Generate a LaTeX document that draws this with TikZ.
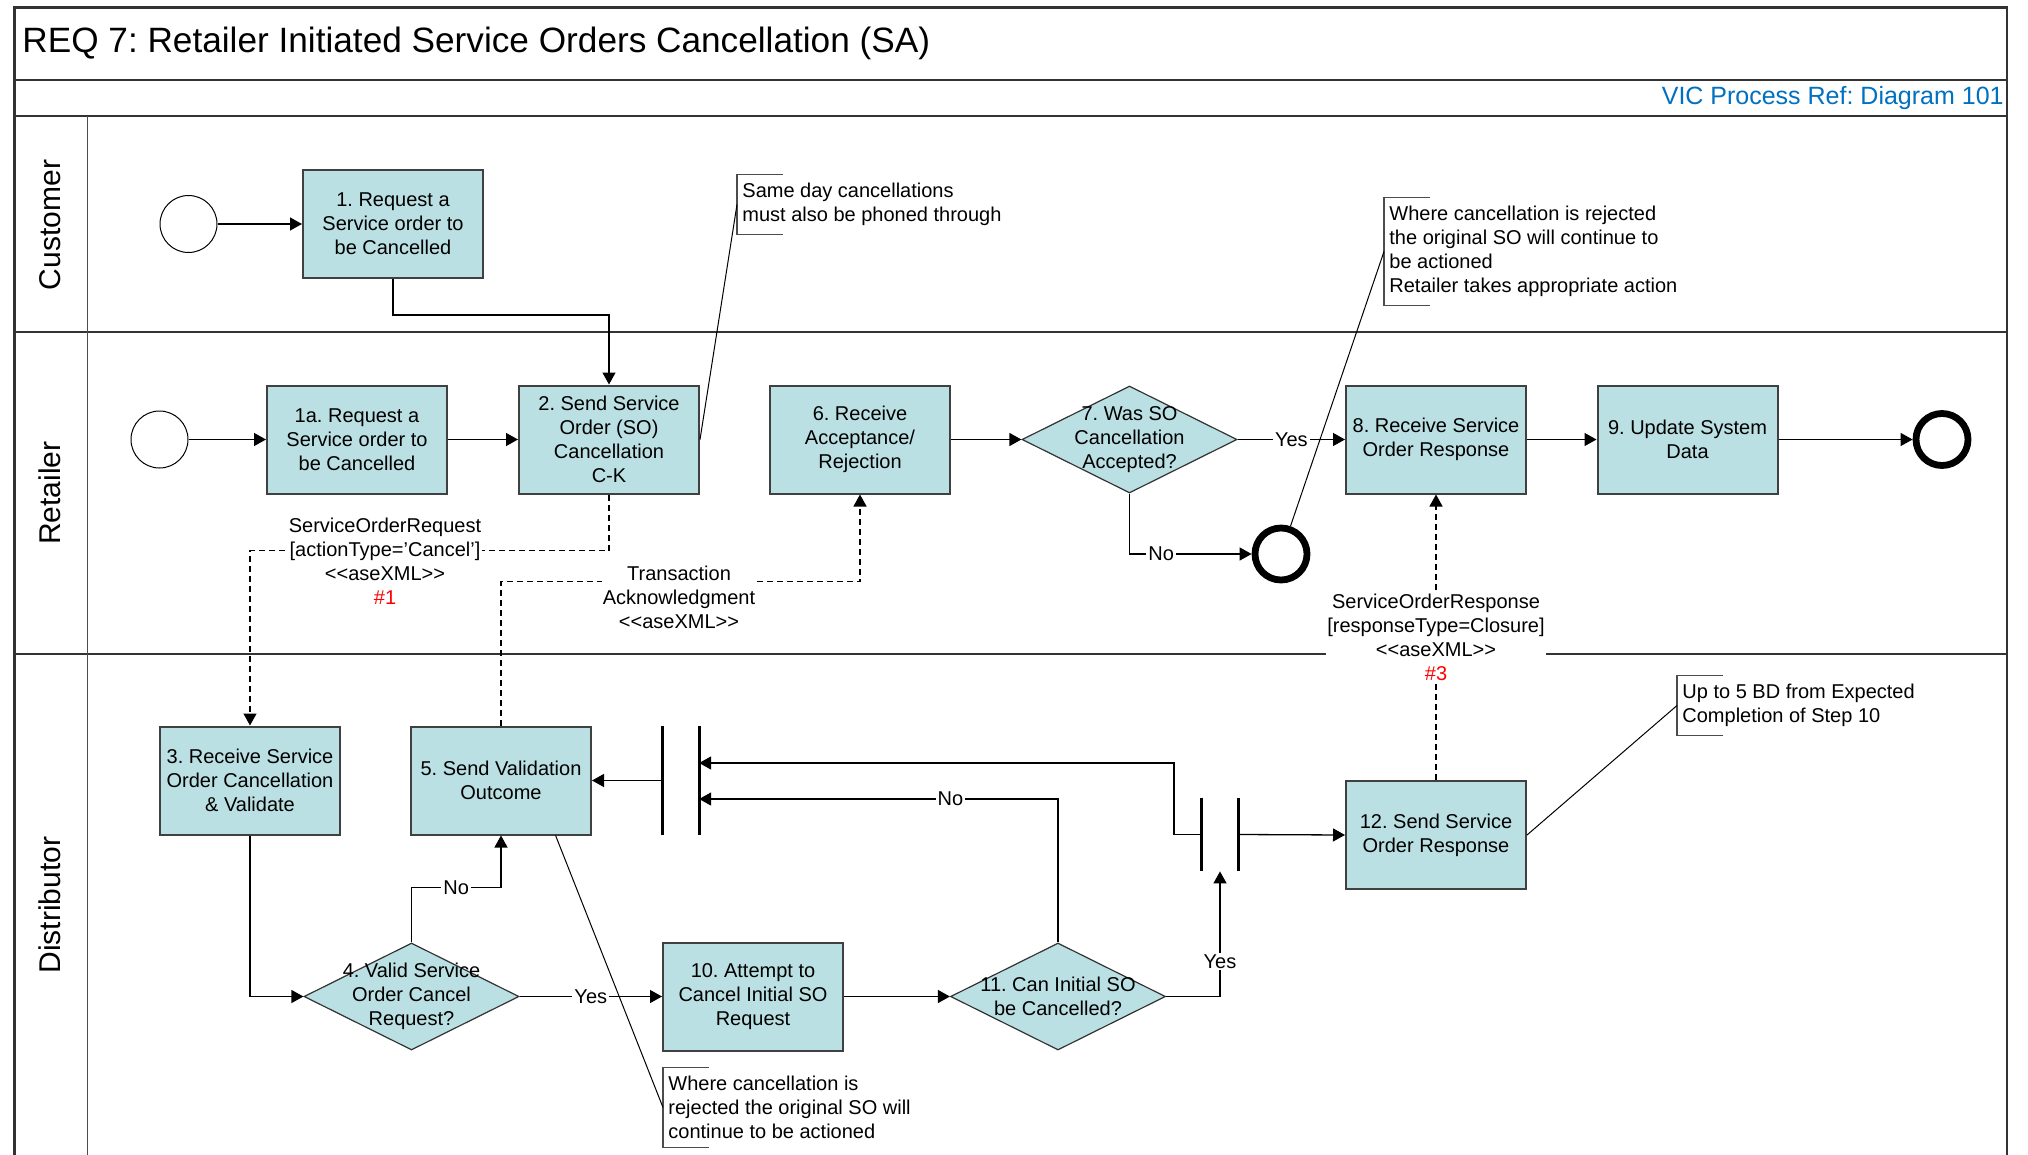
\documentclass[tikz,border=0pt]{standalone}
\usepackage{fontspec}
\setmainfont{Liberation Sans}
\frenchspacing
\usetikzlibrary{shapes.geometric,arrows.meta,calc}
\definecolor{taskfill}{HTML}{BBE0E3}
\definecolor{refblue}{HTML}{0070C0}
\definecolor{framegray}{HTML}{333333}

\begin{document}
\begin{tikzpicture}[x=0.5pt, y=-0.5pt,
    every node/.style={font=\fontsize{10}{12}\selectfont},
    task/.style={draw=black!75, line width=1pt, fill=taskfill, minimum width=90pt, minimum height=54pt, inner xsep=0.5pt, align=center},
    decision/.style={diamond, draw=black!80, line width=0.6pt, fill=taskfill, minimum width=107.5pt, minimum height=53.5pt, inner sep=0pt},
    startev/.style={circle, draw, line width=0.5pt, minimum size=28.5pt, inner sep=0pt},
    endev/.style={circle, draw, line width=3.4pt, minimum size=26pt, inner sep=0pt},
    gateway/.style={inner sep=0pt, minimum width=18.1pt},
    bar/.style={line width=1.6pt},
    flow/.style={line width=0.65pt, -{Triangle[length=6pt,width=6.5pt]}},
    msg/.style={flow, dash pattern=on 3pt off 2pt},
    lbl/.style={fill=white, inner sep=1pt},
    msglabel/.style={fill=white, align=center, inner sep=0.5pt},
    note/.style={anchor=west, align=left, inner xsep=2.5pt, inner ysep=4pt},
    bracket/.style={line width=0.6pt, draw=black!70},
    callout/.style={line width=0.5pt},
    lane/.style={line width=1pt, draw=framegray},
    lanename/.style={rotate=90, font=\fontsize{15}{18}\selectfont}
]

% Frame and lanes
\useasboundingbox (0,0) rectangle (2028,1155);
\draw[line width=1.3pt, draw=framegray] (14.5,1155) -- (14.5,7.5) -- (2007,7.5) -- (2007,1155);
\draw[lane] (14.5,80) -- (2007,80);
\draw[lane] (14.5,116) -- (2007,116);
\draw[lane] (14.5,332) -- (2007,332);
\draw[lane] (14.5,654) -- (2007,654);
\draw[black!70, line width=0.5pt] (87,116) -- (87,1155);

% Heading
\node[anchor=west, inner sep=0pt, font=\fontsize{17.6}{21}\selectfont] (title) at (22,43.5) {REQ 7: Retailer Initiated Service Orders Cancellation (SA)};
\node[anchor=east, inner sep=0pt, text=refblue, font=\fontsize{12.5}{15}\selectfont] (ref) at (2004,98) {VIC Process Ref: Diagram 101};

% Lane names
\node[lanename] (laneC) at (50,225) {Customer};
\node[lanename] (laneR) at (50,493) {Retailer};
\node[lanename] (laneD) at (50,905) {Distributor};

% Customer
\node[startev] (startC) at (188.5,224) {};
\node[task] (b1) at (393,224) {1. Request a\\Service order to\\be Cancelled};
\draw[flow] (startC) -- (b1);

% Retailer
\node[startev] (startR) at (159.5,439.5) {};
\node[task] (b1a) at (357,439.5) {1a. Request a\\Service order to\\be Cancelled};
\node[task] (b2) at (609,439.5) {2. Send Service\\Order (SO)\\Cancellation\\C-K};
\node[task] (b6) at (860,439.5) {6. Receive\\Acceptance/\\Rejection};
\node[decision] (d7) at (1129.5,439.5) {};
\node[align=center] (d7t) at (d7) {7. Was SO\\Cancellation\\Accepted?};
\node[task] (b8) at (1436,439.5) {8. Receive Service\\Order Response};
\node[task] (b9) at (1687.5,439.5) {9. Update System\\Data};
\node[endev] (endR) at (1942,439.5) {};
\node[endev] (endNo) at (1281,554) {};

\draw[flow] (b1.south) -- ++(0,36) -| (b2.north);
\draw[flow] (startR) -- (b1a);
\draw[flow] (b1a) -- (b2);
\draw[flow] (b6) -- (d7);
\draw[flow] (d7) -- node[lbl] (yes7) {Yes} (b8);
\draw[flow] (b8) -- (b9);
\draw[flow] (b9) -- (endR);
\draw[flow] (d7.south) |- node[lbl, pos=0.63] (no7) {No} (endNo);

% Distributor
\node[task] (b3) at (250,780.5) {3. Receive Service\\Order Cancellation\\\& Validate};
\node[task] (b5) at (501,780.5) {5. Send Validation\\Outcome};
\node[gateway, minimum height=54.5pt] (gw1) at (680.6,780.5) {};
\draw[bar] (gw1.north west) -- (gw1.south west);
\draw[bar] (gw1.north east) -- (gw1.south east);
\node[gateway, minimum height=36.5pt] (gw2) at (1220,834.5) {};
\draw[bar] (gw2.north west) -- (gw2.south west);
\draw[bar] (gw2.north east) -- (gw2.south east);
\node[task] (b12) at (1436,835) {12. Send Service\\Order Response};
\node[decision] (d4) at (411.5,996.5) {};
\node[align=center] (d4t) at (d4) {4. Valid Service\\Order Cancel\\Request?};
\node[task] (b10) at (753,996.5) {10. Attempt to\\Cancel Initial SO\\Request};
\node[decision] (d11) at (1058,996.5) {};
\node[align=center] (d11t) at (d11) {11. Can Initial SO\\be Cancelled?};

\draw[flow] (b3.south) |- (d4.west);
\draw[flow] (d4.north) -- ++(0,-55) -| node[lbl, pos=0.25] (no4) {No} (b5.south);
\draw[flow] (d4) -- node[lbl] (yes4) {Yes} (b10);
\draw[flow] (b10) -- (d11);
\draw[flow] (d11.north) |- node[lbl, pos=0.65] (no11) {No} ($(gw1.east)+(0,18.5)$);
\draw[flow] (gw2.west) -- ++(-27.6,0) |- ($(gw1.east)+(0,-17.5)$);
\draw[flow] (gw1.west) -- (b5.east);
\draw[flow] (gw2.east) -- (b12.west);
\draw[flow] (d11.east) -| node[lbl, pos=0.64] (yes11) {Yes} (gw2.south);

% Messages
\draw[msg] (b2.south) -- ++(0,56) -| (b3.north);
\node[msglabel] (m1) at (385,561) {ServiceOrderRequest\\{[}actionType='Cancel']\\<\kern0pt<aseXML>\kern0pt>\\\textcolor{red}{\#1}};
\draw[msg] (b5.north) -- ++(0,-144) -| (b6.south);
\node[msglabel] (m2) at (679,597) {Transaction\\Acknowledgment\\<\kern0pt<aseXML>\kern0pt>};
\draw[msg] (b12.north) -- (b8.south);
\node[msglabel] (m3) at (1436,637) {ServiceOrderResponse\\{[}responseType=Closure]\\<\kern0pt<aseXML>\kern0pt>\\\textcolor{red}{\#3}};

% Notes
\node[note] (n1) at (737,204.5) {Same day cancellations\\must also be phoned through};
\draw[bracket] (n1.north west) ++(46,0) -- (n1.north west) -- (n1.south west) -- ++(46,0);
\draw[callout] (n1.west) -- (b2.east);

\node[note] (n2) at (1384,251.5) {Where cancellation is rejected\\the original SO will continue to\\be actioned\\Retailer takes appropriate action};
\draw[bracket] (n2.north west) ++(46,0) -- (n2.north west) -- (n2.south west) -- ++(46,0);
\draw[callout] (n2.west) -- (endNo);

\node[note] (n3) at (1677,705.5) {Up to 5 BD from Expected\\Completion of Step 10};
\draw[bracket] (n3.north west) ++(46,0) -- (n3.north west) -- (n3.south west) -- ++(46,0);
\draw[callout] (n3.west) -- (b12.east);

\node[note] (n4) at (663,1107.5) {Where cancellation is\\rejected the original SO will\\continue to be actioned};
\draw[bracket] (n4.north west) ++(46,0) -- (n4.north west) -- (n4.south west) -- ++(46,0);
\draw[callout] ($(b5.south)!0.6!(b5.south east)$) -- (n4.west);

\end{tikzpicture}
\end{document}
